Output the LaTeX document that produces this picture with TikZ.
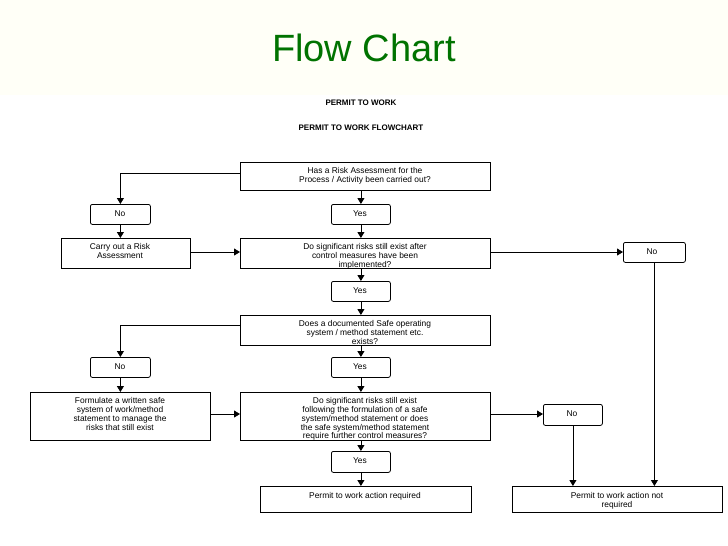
\documentclass[tikz,border=0pt]{standalone}
\usepackage{fontspec}
\setmainfont{Liberation Sans}
\usetikzlibrary{arrows.meta}
\begin{document}
\begin{tikzpicture}[x=1pt,y=-1pt,
  bx/.style={draw,thick,inner sep=0pt,anchor=north west},
  ans/.style={draw,thick,rounded corners=2pt,anchor=north west,inner sep=0pt},
  lbl/.style={font=\fontsize{8.4}{8.8}\selectfont,align=center},
  arr/.style={thick,-{Triangle[length=6pt,width=7pt]}}]
\useasboundingbox (0,0) rectangle (728,546);
\fill[white] (0,0) rectangle (728,546);
\fill[yellow!3] (0,0) rectangle (728,95);
\node[text=green!45!black,font=\fontsize{38}{40}\selectfont] (title) at (364,48) {Flow Chart};
\node[font=\bfseries\fontsize{8}{8}\selectfont] (h1) at (361,103) {PERMIT TO WORK};
\node[font=\bfseries\fontsize{8}{8}\selectfont] (h2) at (361,128) {PERMIT TO WORK FLOWCHART};
% boxes
\node[bx,minimum width=250pt,minimum height=28pt] (b1) at (240,162) {};
\node[lbl,anchor=north] at (365,164) {Has a Risk Assessment for the\\Process / Activity been carried out?};
\node[ans,minimum width=60pt,minimum height=20pt] (n1) at (90,204) {};
\node[lbl,anchor=north] at (120,207) {No};
\node[ans,minimum width=59pt,minimum height=20pt] (y1) at (331,204) {};
\node[lbl,anchor=north] at (360,207) {Yes};
\node[bx,minimum width=129pt,minimum height=30pt] (c1) at (61,238) {};
\node[lbl,anchor=north] at (120,240) {Carry out a Risk\\Assessment};
\node[bx,minimum width=250pt,minimum height=30pt] (b2) at (240,238) {};
\node[lbl,anchor=north] at (365,240) {Do significant risks still exist after\\control measures have been\\implemented?};
\node[ans,minimum width=62pt,minimum height=20pt] (n2) at (623,242) {};
\node[lbl,anchor=north] at (652,245) {No};
\node[ans,minimum width=59pt,minimum height=20pt] (y2) at (331,281) {};
\node[lbl,anchor=north] at (360,284) {Yes};
\node[bx,minimum width=250pt,minimum height=30pt] (b3) at (240,315) {};
\node[lbl,anchor=north] at (365,317) {Does a documented Safe operating\\system / method statement etc.\\exists?};
\node[ans,minimum width=60pt,minimum height=20pt] (n3) at (90,357) {};
\node[lbl,anchor=north] at (120,360) {No};
\node[ans,minimum width=59pt,minimum height=20pt] (y3) at (331,357) {};
\node[lbl,anchor=north] at (360,360) {Yes};
\node[bx,minimum width=180pt,minimum height=48pt] (f1) at (30,392) {};
\node[lbl,anchor=north] at (120,394) {Formulate a written safe\\system of work/method\\statement to manage the\\risks that still exist};
\node[bx,minimum width=250pt,minimum height=48pt] (b4) at (240,392) {};
\node[lbl,anchor=north] at (365,394) {Do significant risks still exist\\following the formulation of a safe\\system/method statement or does\\the safe system/method statement\\require further control measures?};
\node[ans,minimum width=59pt,minimum height=21pt] (n4) at (543,404) {};
\node[lbl,anchor=north] at (572,407) {No};
\node[ans,minimum width=59pt,minimum height=21pt] (y4) at (331,451) {};
\node[lbl,anchor=north] at (360,454) {Yes};
\node[bx,minimum width=211pt,minimum height=26pt] (p1) at (260,486) {};
\node[lbl,anchor=north] at (365,489) {Permit to work action required};
\node[bx,minimum width=210pt,minimum height=26pt] (p2) at (512,486) {};
\node[lbl,anchor=north] at (617,489) {Permit to work action not\\required};
% connectors
\draw[arr] (b1.west|-0,173) -| (n1.north);
\draw[arr] (b1.south-|y1.north) -- (y1.north);
\draw[arr] (n1.south) -- (c1.north-|n1.south);
\draw[arr] (y1.south) -- (b2.north-|y1.south);
\draw[arr] (c1.east|-0,252) -- (b2.west|-0,252);
\draw[arr] (b2.east|-0,252) -- (n2.west|-0,252);
\draw[arr] (y2.north|-b2.south) -- (y2.north);
\draw[arr] (y2.south) -- (b3.north-|y2.south);
\draw[arr] (b3.west|-0,325) -| (n3.north);
\draw[arr] (b3.south-|y3.north) -- (y3.north);
\draw[arr] (n3.south) -- (f1.north-|n3.south);
\draw[arr] (y3.south) -- (b4.north-|y3.south);
\draw[arr] (f1.east|-0,414) -- (b4.west|-0,414);
\draw[arr] (b4.east|-0,414) -- (n4.west|-0,414);
\draw[arr] (b4.south-|y4.north) -- (y4.north);
\draw[arr] (y4.south) -- (p1.north-|y4.south);
\draw[arr] (n4.south) -- (p2.north-|n4.south);
\draw[arr] (n2.south) -- (p2.north-|n2.south);
\end{tikzpicture}
\end{document}
